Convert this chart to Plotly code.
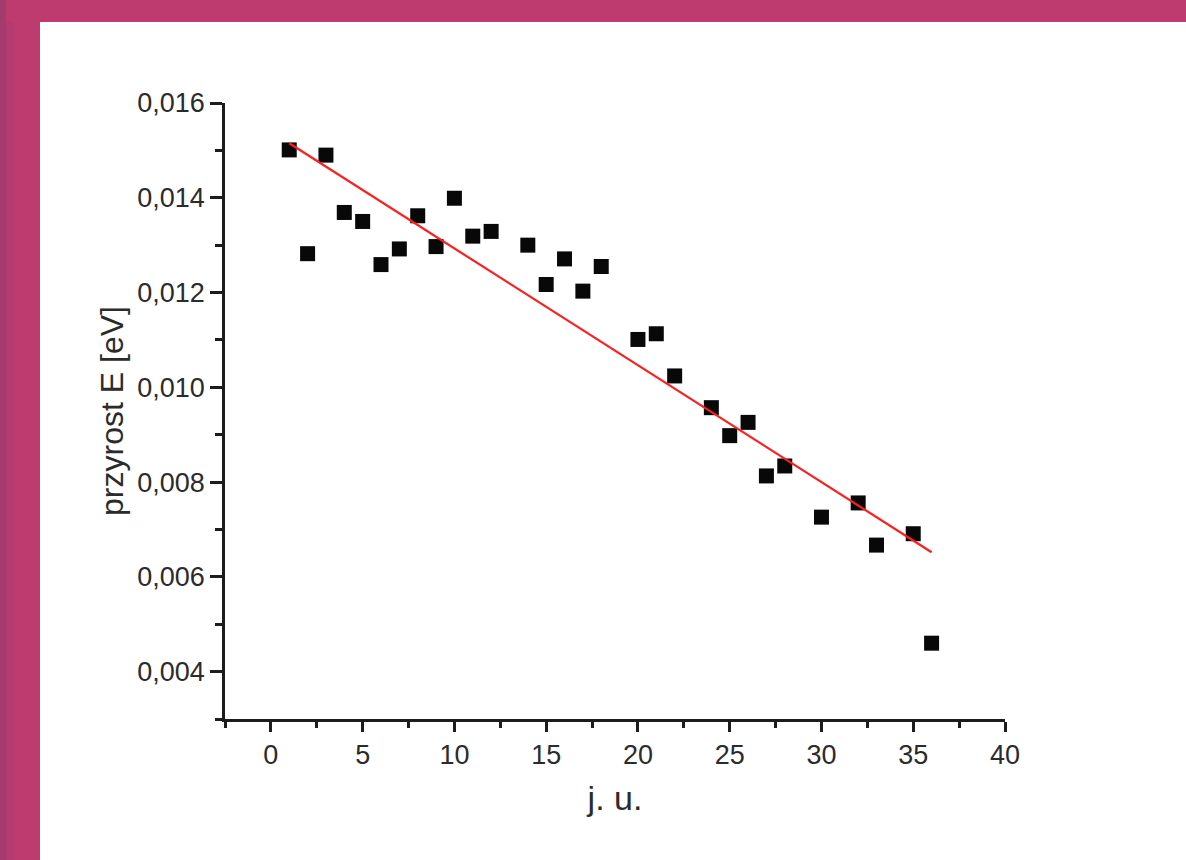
import plotly.graph_objects as go

# Data
j_values = [1, 2, 3, 4, 5, 6, 7, 8, 9, 10, 11, 12, 14, 15, 16, 17, 18,
            20, 21, 22, 24, 25, 26, 27, 28, 30, 32, 33, 35, 36]
delta_e = [0.01501, 0.01282, 0.01490, 0.01369, 0.01350, 0.01259, 0.01292,
           0.01362, 0.01297, 0.01399, 0.01319, 0.01329, 0.01300, 0.01217,
           0.01271, 0.01203, 0.01255, 0.01101, 0.01113, 0.01024, 0.00957,
           0.00898, 0.00926, 0.00813, 0.00834, 0.00726, 0.00756, 0.00667,
           0.00691, 0.00460]
fit_x = [1, 36]
fit_y = [0.01515, 0.00652]

x_ticks = [0, 5, 10, 15, 20, 25, 30, 35, 40]
y_ticks = [0.004, 0.006, 0.008, 0.010, 0.012, 0.014, 0.016]

W, H = 1186, 860
L, R, T, B = 225, 1005, 103, 719

def px(xp):
    return (xp - L) / (R - L)

def py(yp):
    return (B - yp) / (B - T)

fig = go.Figure()
fig.add_trace(go.Scatter(
    x=j_values, y=delta_e, mode="markers",
    marker=dict(symbol="square", size=15, color="#080808",
                line=dict(width=0)),
    showlegend=False, cliponaxis=False))
fig.add_trace(go.Scatter(
    x=fit_x, y=fit_y, mode="lines",
    line=dict(color="#FF1E1E", width=2.2),
    showlegend=False))

magenta = "#BE3B70"
shapes = [
    dict(type="rect", xref="paper", yref="paper", layer="below",
         x0=px(40), x1=px(W + 5), y0=py(22), y1=py(H + 5),
         fillcolor="white", line=dict(width=0)),
    dict(type="rect", xref="paper", yref="paper", layer="below",
         x0=px(-2), x1=px(6), y0=py(-2), y1=py(H + 5),
         fillcolor="#A53A6F", line=dict(width=0)),
    dict(type="rect", xref="paper", yref="paper", layer="below",
         x0=px(6), x1=px(14), y0=py(22), y1=py(H + 5),
         fillcolor="#B33B70", line=dict(width=0)),
]

tickfont = dict(family="Liberation Sans, Arial, sans-serif", size=27, color="#2b2b2b")
xtitlefont = dict(family="Liberation Sans, Arial, sans-serif", size=34, color="#2b2b2b")
ytitlefont = dict(family="Liberation Sans, Arial, sans-serif", size=32, color="#2b2b2b")

fig.update_layout(
    width=W, height=H,
    margin=dict(l=L, r=W - R, t=T, b=H - B, pad=0),
    paper_bgcolor=magenta, plot_bgcolor="white",
    separators=", ",
    shapes=shapes,
    xaxis=dict(
        range=[-2.5, 40], tickvals=x_ticks, ticktext=[str(v) for v in x_ticks],
        showgrid=False, zeroline=False, showline=True, linecolor="#1c1c1c",
        linewidth=2.5, ticks="outside", ticklen=10, tickwidth=2.5,
        tickcolor="#1c1c1c", tickfont=tickfont, mirror=False,
        minor=dict(ticks="outside", ticklen=6, tickwidth=2.5,
                   tickcolor="#1c1c1c", dtick=2.5, tick0=0, showgrid=False),
        title=dict(text="j. u.", font=xtitlefont, standoff=18),
    ),
    yaxis=dict(
        range=[0.003, 0.016], tickvals=y_ticks, tickformat=".3f",
        showgrid=False, zeroline=False, showline=True, linecolor="#1c1c1c",
        linewidth=2.5, ticks="outside", ticklen=12, tickwidth=2.5,
        tickcolor="#1c1c1c", tickfont=tickfont, mirror=False,
        minor=dict(ticks="outside", ticklen=7, tickwidth=2.5,
                   tickcolor="#1c1c1c", dtick=0.001, tick0=0, showgrid=False),
        title=dict(text="przyrost E [eV]", font=ytitlefont, standoff=5),
    ),
)

fig.write_html(
    "out.html",
    config={"displayModeBar": False},
    post_script="document.body.style.margin='0px';"
                "document.body.style.background='" + magenta + "';",
)
